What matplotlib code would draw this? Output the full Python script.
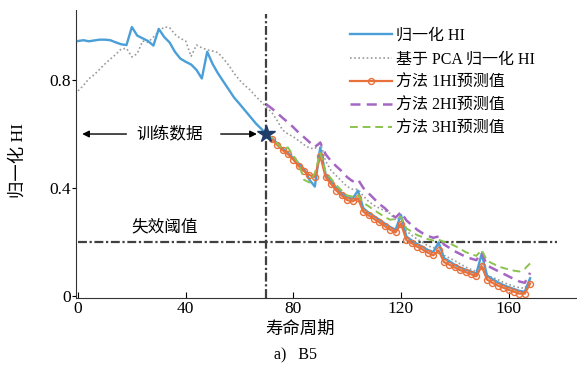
import numpy as np
import matplotlib.pyplot as plt

plt.rcParams['font.family'] = ['Liberation Serif', 'Noto Sans CJK SC']
plt.rcParams['axes.unicode_minus'] = False

# cycles (every 2nd cycle), full run and prediction part
cycles = list(range(0, 170, 2))
pred_cycles = list(range(70, 170, 2))

# normalised HI (measured)
hi_norm = [0.945, 0.948, 0.944, 0.947, 0.950, 0.950, 0.948, 0.940, 0.933, 0.930,
           0.997, 0.965, 0.955, 0.945, 0.928, 0.990, 0.960, 0.940, 0.905, 0.880,
           0.868, 0.858, 0.838, 0.806, 0.905, 0.860, 0.825, 0.795, 0.765, 0.735,
           0.712, 0.688, 0.664, 0.640, 0.620, 0.600,
           0.585, 0.565, 0.545, 0.530, 0.510, 0.490, 0.470, 0.430, 0.405, 0.550,
           0.450, 0.425, 0.400, 0.380, 0.365, 0.360, 0.390, 0.325, 0.308, 0.295,
           0.282, 0.268, 0.255, 0.245, 0.300, 0.220, 0.205, 0.192, 0.182, 0.170,
           0.162, 0.198, 0.140, 0.128, 0.115, 0.105, 0.097, 0.090, 0.082, 0.155,
           0.075, 0.062, 0.050, 0.040, 0.032, 0.025, 0.018, 0.015, 0.065]

# PCA based normalised HI
hi_pca = [0.760, 0.780, 0.805, 0.820, 0.840, 0.860, 0.878, 0.895, 0.915, 0.918,
          0.886, 0.898, 0.945, 0.940, 0.960, 0.980, 0.997, 0.995, 0.970, 0.955,
          0.945, 0.888, 0.930, 0.920, 0.912, 0.908, 0.902, 0.880, 0.855, 0.825,
          0.800, 0.780, 0.763, 0.740, 0.720, 0.700,
          0.680, 0.650, 0.615, 0.600, 0.590, 0.575, 0.560, 0.548, 0.545, 0.570,
          0.500, 0.465, 0.445, 0.425, 0.405, 0.395, 0.395, 0.370, 0.350, 0.335,
          0.325, 0.315, 0.305, 0.280, 0.290, 0.240, 0.225, 0.210, 0.198, 0.185,
          0.178, 0.185, 0.150, 0.140, 0.130, 0.118, 0.107, 0.098, 0.090, 0.120,
          0.075, 0.068, 0.060, 0.050, 0.042, 0.035, 0.030, 0.028, 0.060]

# predictions, cycles 70..168
pred_m1 = [0.600, 0.580, 0.560, 0.540, 0.525, 0.505, 0.480, 0.462, 0.448, 0.440,
           0.520, 0.440, 0.415, 0.390, 0.372, 0.355, 0.350, 0.362, 0.312, 0.298,
           0.285, 0.272, 0.258, 0.245, 0.235, 0.268, 0.207, 0.195, 0.182, 0.172,
           0.160, 0.150, 0.168, 0.125, 0.115, 0.105, 0.095, 0.088, 0.080, 0.072,
           0.110, 0.060, 0.048, 0.038, 0.030, 0.022, 0.015, 0.008, 0.008, 0.045]
pred_m2 = [0.710, 0.695, 0.678, 0.660, 0.643, 0.625, 0.605, 0.588, 0.570, 0.552,
           0.568, 0.525, 0.500, 0.480, 0.462, 0.440, 0.425, 0.432, 0.400, 0.380,
           0.360, 0.340, 0.325, 0.305, 0.290, 0.310, 0.280, 0.262, 0.245, 0.232,
           0.222, 0.215, 0.220, 0.190, 0.178, 0.165, 0.155, 0.145, 0.138, 0.132,
           0.160, 0.112, 0.102, 0.092, 0.082, 0.072, 0.062, 0.053, 0.048, 0.085]
pred_m3 = [0.600, 0.585, 0.565, 0.545, 0.550, 0.520, 0.490, 0.430, 0.420, 0.455,
           0.530, 0.460, 0.435, 0.410, 0.390, 0.372, 0.368, 0.375, 0.345, 0.332,
           0.318, 0.305, 0.292, 0.282, 0.285, 0.292, 0.250, 0.238, 0.225, 0.218,
           0.210, 0.205, 0.208, 0.200, 0.195, 0.185, 0.175, 0.162, 0.155, 0.148,
           0.170, 0.130, 0.120, 0.110, 0.103, 0.098, 0.093, 0.090, 0.100, 0.120]

split_cycle = 70
threshold = 0.2

fig = plt.figure(figsize=(5.77, 3.71), dpi=100)
ax = fig.add_axes([0.132, 0.197, 0.866, 0.776])

ax.plot(cycles, hi_pca, color='#9a9a9a', lw=1.2, ls=(0, (1, 1.5)), label='基于 PCA 归一化 HI', zorder=2)
ax.plot(cycles, hi_norm, color='#4a9fd8', lw=1.7, label='归一化 HI', zorder=3)
ax.plot(pred_cycles, pred_m1, color='#e8703a', lw=1.6, marker='o', ms=4.3,
        mfc='none', mec='#e8703a', mew=1.0, label='方法 1HI预测值', zorder=4)
ax.plot(pred_cycles, pred_m2, color='#a466c2', lw=1.8, ls=(0, (4, 2.5)), label='方法 2HI预测值', zorder=5)
ax.plot(pred_cycles, pred_m3, color='#8cc350', lw=1.4, ls=(0, (4, 2.5)), label='方法 3HI预测值', zorder=5)

ax.axvline(split_cycle, ymin=0, ymax=0.985, color='#404040', lw=1.6, ls=(0, (4, 1.2, 1, 1.2)), zorder=1)
ax.plot([0, 178], [threshold, threshold], color='#404040', lw=1.6, ls=(0, (4, 1.2, 1, 1.2)), zorder=1)
ax.plot([split_cycle], [0.6], marker='*', ms=13, color='#1f3d6b', zorder=6)

ax.annotate('', xy=(0.5, 0.6), xytext=(19, 0.6),
            arrowprops=dict(arrowstyle='-|>', color='k', lw=1, mutation_scale=10))
ax.annotate('', xy=(67.5, 0.6), xytext=(52, 0.6),
            arrowprops=dict(arrowstyle='-|>', color='k', lw=1, mutation_scale=10))
ax.text(34, 0.6, '训练数据', ha='center', va='center', fontsize=12)
ax.text(32, 0.252, '失效阈值', ha='center', va='center', fontsize=12)

ax.set_xlim(-0.7, 185)
ax.set_ylim(-0.008, 1.06)
ax.set_xticks([0, 40, 80, 120, 160])
ax.set_yticks([0, 0.4, 0.8])
ax.set_yticklabels(['0', '0.4', '0.8'])
ax.tick_params(axis='x', direction='in', length=4, labelsize=12.5, pad=2)
ax.tick_params(axis='y', direction='out', length=3, labelsize=12.5, pad=1)
for s in ['top', 'right']:
    ax.spines[s].set_visible(False)
for s in ['left', 'bottom']:
    ax.spines[s].set_color('#333333')

handles, labels = ax.get_legend_handles_labels()
order = [1, 0, 2, 3, 4]
ax.legend([handles[i] for i in order], [labels[i] for i in order],
          loc='upper left', bbox_to_anchor=(350 / 577, 1 - 28 / 371),
          bbox_transform=fig.transFigure, frameon=False, fontsize=11.5,
          handlelength=2.6, handletextpad=0.3, labelspacing=0.45, borderaxespad=0,
          borderpad=0)

fig.text(18 / 577, 1 - 160 / 371, '归一化 HI', rotation=90, ha='center', va='center', fontsize=12.5)
fig.text(300 / 577, 1 - 330 / 371, '寿命周期', ha='center', va='center', fontsize=12.5)
fig.text(295 / 577, 1 - 355 / 371, 'a)   B5', ha='center', va='center', fontsize=11.5)

fig.savefig('out.png', dpi=100)
